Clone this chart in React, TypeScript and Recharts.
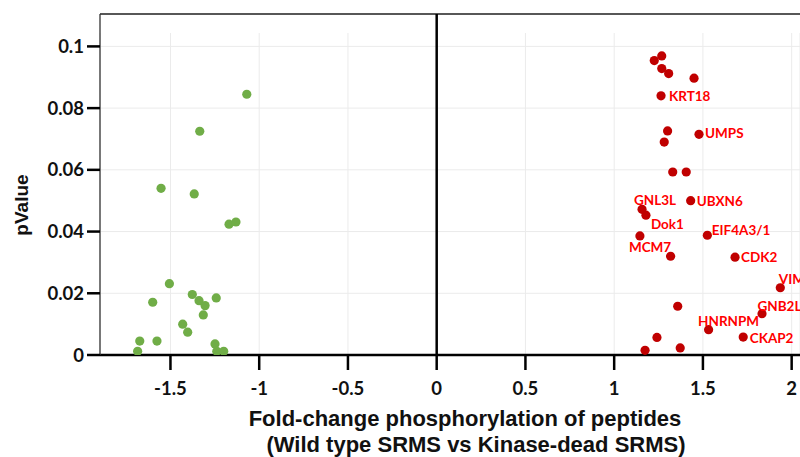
import React from 'react';
import { ScatterChart, Scatter, XAxis, YAxis, CartesianGrid, ReferenceLine } from 'recharts';

// Down-regulated (green) peptides
const greenFold = [-1.07, -1.335, -1.553, -1.366, -1.17, -1.131, -1.506, -1.6, -1.377, -1.339, -1.305, -1.242, -1.315, -1.431, -1.403, -1.673, -1.576, -1.685, -1.249, -1.239, -1.2];
const greenP = [0.0845, 0.0725, 0.054, 0.0522, 0.0424, 0.0431, 0.0231, 0.0171, 0.0196, 0.0176, 0.016, 0.0185, 0.013, 0.01, 0.0074, 0.0045, 0.0045, 0.0012, 0.0036, 0.0012, 0.0012];

// Up-regulated (red) peptides
const redFold = [1.226, 1.268, 1.268, 1.307, 1.45, 1.264, 1.301, 1.282, 1.478, 1.33, 1.406, 1.431, 1.157, 1.179, 1.145, 1.525, 1.318, 1.681, 1.936, 1.833, 1.358, 1.532, 1.727, 1.241, 1.174, 1.372];
const redP = [0.0954, 0.0969, 0.0928, 0.0912, 0.0897, 0.084, 0.0726, 0.069, 0.0715, 0.0593, 0.0593, 0.05, 0.0472, 0.0453, 0.0386, 0.0388, 0.032, 0.0317, 0.0218, 0.0134, 0.0158, 0.0082, 0.0058, 0.0057, 0.0015, 0.0023];
const redNames = ['', '', '', '', '', 'KRT18', '', '', 'UMPS', '', '', 'UBXN6', 'GNL3L', 'Dok1', 'MCM7', 'EIF4A3/1', '', 'CDK2', 'VIM', 'GNB2L1', '', 'HNRNPM', 'CKAP2', '', '', ''];

const xTicks = [-1.5, -1, -0.5, 0, 0.5, 1, 1.5, 2];
const yTicks = [0, 0.02, 0.04, 0.06, 0.08, 0.1];

const X_DOMAIN: [number, number] = [-1.897, 2.047];
const Y_DOMAIN: [number, number] = [0, 0.1105];

// label placement (style only)
const LABEL_POS: Record<string, { dx: number; dy: number }> = {
  KRT18: { dx: 8, dy: 5 },
  UMPS: { dx: 6, dy: 4 },
  UBXN6: { dx: 6, dy: 5 },
  GNL3L: { dx: -8, dy: -4.5 },
  Dok1: { dx: 5, dy: 14 },
  MCM7: { dx: -11, dy: 16.5 },
  'EIF4A3/1': { dx: 4.5, dy: 0 },
  CDK2: { dx: 6, dy: 4.5 },
  VIM: { dx: -1.5, dy: -4 },
  GNB2L1: { dx: -4.5, dy: -3 },
  HNRNPM: { dx: -10.5, dy: -3.5 },
  CKAP2: { dx: 6.5, dy: 6.3 },
};

const greenData = greenFold.map((x, i) => ({ x, y: greenP[i], name: '' }));
const redData = redFold.map((x, i) => ({ x, y: redP[i], name: redNames[i] }));

const TICK_FONT = 'Lato, "Open Sans", sans-serif';

const makeShape = (fill: string) => (props: any) => {
  const { cx, cy, payload } = props;
  const name = payload?.name;
  const pos = name ? LABEL_POS[name] : null;
  return (
    <g>
      <circle cx={cx} cy={cy} r={4.6} fill={fill} />
      {name && pos ? (
        <text x={cx + pos.dx} y={cy + pos.dy} fill="#ff0000" fontFamily={TICK_FONT} fontWeight={700} fontSize={13.5} textAnchor="start">
          {name}
        </text>
      ) : null}
    </g>
  );
};

const YLabel = () => (
  <text x={28} y={205} transform="rotate(-90 28 205)" textAnchor="middle" fontFamily='"Liberation Sans", Arial, sans-serif' fontWeight={700} fontSize={19} fill="#111">
    pValue
  </text>
);

const XLabel = () => (
  <g fontFamily='"Liberation Sans", Arial, sans-serif' fontWeight={700} fontSize={22} fill="#111">
    <text x={465} y={426} textAnchor="middle">Fold-change phosphorylation of peptides</text>
    <text x={476} y={452} textAnchor="middle">(Wild type SRMS vs Kinase-dead SRMS)</text>
  </g>
);

export default function App() {
  return (
    <div style={{ position: 'absolute', left: 0, top: 0, width: 800, height: 457, background: '#fff' }}>
      <ScatterChart width={800} height={457} margin={{ top: 14, right: 0, bottom: 0, left: 0 }}>
        <CartesianGrid vertical={false} stroke="#ebebeb" strokeWidth={1} />
        <CartesianGrid horizontal={false} stroke="#ebebeb" strokeWidth={1} y={33} height={322} />
        <XAxis
          type="number"
          dataKey="x"
          domain={X_DOMAIN}
          ticks={xTicks}
          allowDataOverflow
          height={102}
          tickSize={15}
          tickMargin={12}
          axisLine={{ stroke: '#000', strokeWidth: 2.5 }}
          tickLine={{ stroke: '#000', strokeWidth: 2.5 }}
          tick={{ fill: '#111', fontFamily: TICK_FONT, fontWeight: 700, fontSize: 18.5 }}
          label={<XLabel />}
        />
        <YAxis
          type="number"
          dataKey="y"
          domain={Y_DOMAIN}
          ticks={yTicks}
          allowDataOverflow
          width={100}
          tickSize={13}
          tickMargin={3}
          axisLine={{ stroke: '#333', strokeWidth: 1.3 }}
          tickLine={{ stroke: '#000', strokeWidth: 2.5 }}
          tick={{ fill: '#111', fontFamily: TICK_FONT, fontWeight: 700, fontSize: 18.5 }}
          label={<YLabel />}
        />
        <ReferenceLine y={Y_DOMAIN[1]} stroke="#222" strokeWidth={1.5} />
        <ReferenceLine x={0} stroke="#000" strokeWidth={2.5} />
        <Scatter data={greenData} fill="#70ad47" shape={makeShape('#70ad47')} isAnimationActive={false} />
        <Scatter data={redData} fill="#c00000" shape={makeShape('#c00000')} isAnimationActive={false} />
      </ScatterChart>
    </div>
  );
}
